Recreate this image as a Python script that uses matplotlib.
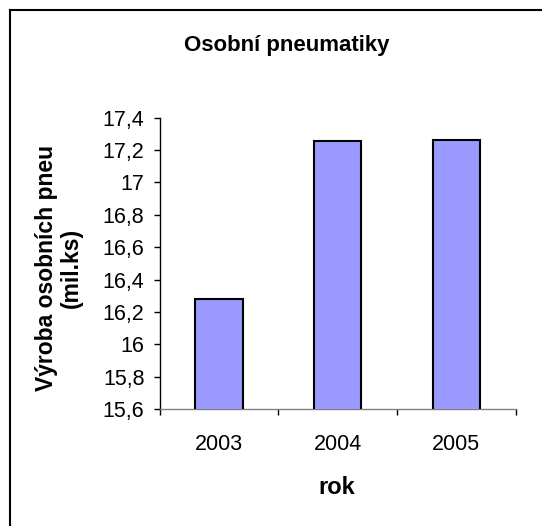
import matplotlib.pyplot as plt
from matplotlib.lines import Line2D
from matplotlib.ticker import FuncFormatter, FixedLocator

# Data
roky = ['2003', '2004', '2005']
vyroba = [16.28, 17.255, 17.265]
y_ticks = [15.6, 15.8, 16.0, 16.2, 16.4, 16.6, 16.8, 17.0, 17.2, 17.4]

plt.rcParams['font.family'] = ['Liberation Sans', 'DejaVu Sans']

fig = plt.figure(figsize=(5.42, 5.26), dpi=100)
ax = fig.add_axes([0.2946, 0.2224, 0.6569, 0.5538])

x = range(len(roky))
ax.bar(x, vyroba, width=0.4, color='#9999FF', edgecolor='black', linewidth=1.5,
       zorder=3)

ax.set_xlim(-0.5, len(roky) - 0.5)
ax.set_ylim(15.6, 17.4)
ax.set_yticks(y_ticks)
ax.yaxis.set_major_formatter(
    FuncFormatter(lambda v, p: ('%g' % round(v, 1)).replace('.', ',')))
ax.set_xticks(list(x))
ax.set_xticklabels(roky)
ax.xaxis.set_minor_locator(FixedLocator([i - 0.5 for i in range(len(roky) + 1)]))

ax.tick_params(axis='x', which='major', length=0, pad=18, labelsize=15.5)
ax.tick_params(axis='x', which='minor', length=4, width=1, color='black',
               direction='out')
ax.tick_params(axis='y', length=4, width=1, color='black', pad=7, labelsize=15.5)

for s in ['top', 'right']:
    ax.spines[s].set_visible(False)
ax.spines['left'].set_color('black')
ax.spines['bottom'].set_color('#808080')
ax.spines['left'].set_linewidth(1)
ax.spines['bottom'].set_linewidth(1)

fig.text(287 / 542, 1 - 45 / 526, 'Osobní pneumatiky', ha='center', va='center',
         fontsize=16, fontweight='bold')
fig.text(337 / 542, 1 - 487 / 526, 'rok', ha='center', va='center',
         fontsize=17, fontweight='bold')
fig.text(59 / 542, 1 - 268 / 526, 'Výroba osobních pneu\n(mil.ks)', ha='center',
         va='center', rotation=90, fontsize=16.5, fontweight='bold',
         linespacing=1.1)

# outer chart frame (only top and left edges visible)
fig.add_artist(Line2D([9.5 / 542, 1], [1 - 9.5 / 526] * 2, color='black',
                      linewidth=1.5, transform=fig.transFigure))
fig.add_artist(Line2D([9.5 / 542] * 2, [0, 1 - 9.5 / 526], color='black',
                      linewidth=1.5, transform=fig.transFigure))

plt.savefig('out.png', dpi=100)
